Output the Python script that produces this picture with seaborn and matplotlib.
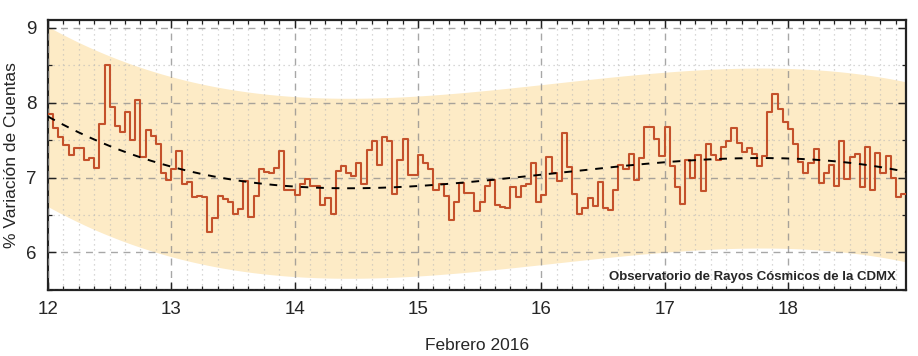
import numpy as np
import pandas as pd
import matplotlib
matplotlib.use("Agg")
import matplotlib.pyplot as plt
import seaborn as sns
from matplotlib.ticker import MultipleLocator

# ========== DATA (hourly values, Feb 12-18 2016) ==========
day_start = 12
hours = np.arange(168)

cuentas = [
    7.85, 7.66, 7.54, 7.43, 7.30, 7.40, 7.40, 7.24, 7.26, 7.13, 7.72, 8.50,
    7.94, 7.69, 7.61, 7.88, 7.50, 8.03, 7.27, 7.63, 7.55, 7.45, 7.06, 6.97,
    7.12, 7.36, 6.92, 6.94, 6.74, 6.76, 6.74, 6.27, 6.46, 6.75, 6.71, 6.68,
    6.52, 6.58, 6.95, 6.48, 6.75, 7.11, 7.08, 7.06, 7.13, 7.35, 6.83, 6.83,
    6.77, 6.92, 6.98, 6.89, 6.89, 6.63, 6.73, 6.51, 7.09, 7.16, 7.06, 7.02,
    7.19, 6.91, 7.37, 7.49, 7.17, 7.54, 7.49, 6.78, 7.23, 7.51, 7.04, 7.04,
    7.30, 7.20, 7.11, 6.84, 6.91, 6.76, 6.44, 6.68, 6.93, 6.80, 6.80, 6.55,
    6.68, 6.89, 6.97, 6.64, 6.61, 6.60, 6.88, 6.74, 6.89, 6.91, 7.19, 6.67,
    6.77, 7.28, 7.06, 6.95, 7.59, 7.14, 6.78, 6.51, 6.60, 6.73, 6.62, 6.94,
    6.59, 6.57, 6.83, 7.17, 7.11, 7.32, 6.97, 7.26, 7.68, 7.68, 7.51, 7.29,
    7.67, 7.16, 6.88, 6.65, 7.23, 7.00, 7.30, 6.82, 7.45, 7.30, 7.23, 7.41,
    7.49, 7.66, 7.46, 7.34, 7.39, 7.32, 7.15, 7.29, 7.87, 8.12, 7.92, 7.74,
    7.65, 7.45, 7.21, 7.06, 7.20, 7.38, 6.93, 7.06, 7.17, 6.89, 7.49, 6.98,
    7.27, 7.31, 6.88, 7.41, 6.83, 7.33, 7.06, 7.29, 6.99, 6.74, 6.78, 6.78,
]

fit_degree = 3
band_half_width = 1.2

x_ticks = [12, 13, 14, 15, 16, 17, 18]
y_ticks = [6, 7, 8, 9]

df = pd.DataFrame({"dia": day_start + hours / 24.0, "cuentas": cuentas})

# polynomial trend of the series and its band
coef = np.polyfit(df["dia"] - day_start, df["cuentas"], fit_degree)
df["ajuste"] = np.polyval(coef, df["dia"] - day_start)

# ========== PLOT ==========
sns.set_theme(style="ticks")
plt.rcParams["font.family"] = ["Liberation Sans", "DejaVu Sans"]

fig = plt.figure(figsize=(9.18, 3.56), dpi=100)
ax = fig.add_axes([0.0523, 0.1854, 0.9347, 0.7584])

ax.fill_between(df["dia"], df["ajuste"] - band_half_width, df["ajuste"] + band_half_width,
                color="#fdebc6", linewidth=0, zorder=1)

sns.lineplot(data=df, x="dia", y="cuentas", drawstyle="steps-post",
             color="#c4512b", linewidth=1.5, ax=ax, zorder=4)
sns.lineplot(data=df, x="dia", y="ajuste", color="black", linewidth=1.4,
             linestyle=(0, (4, 4)), ax=ax, zorder=5)

ax.set_xlim(df["dia"].iloc[0], df["dia"].iloc[-1])
ax.set_ylim(5.5, 9.1)
ax.set_xticks(x_ticks)
ax.set_yticks(y_ticks)
ax.xaxis.set_minor_locator(MultipleLocator(0.125))
ax.yaxis.set_minor_locator(MultipleLocator(0.5))

ax.grid(which="major", color="#8a8a8a", linestyle=(0, (5, 4)), linewidth=1.0, alpha=0.75, zorder=2)
ax.grid(which="minor", color="#b5b5b5", linestyle=(0, (1, 3)), linewidth=0.9, alpha=0.7, zorder=2)
ax.set_axisbelow(False)
for ln in ax.get_xgridlines() + ax.get_ygridlines():
    ln.set_zorder(2)

ax.tick_params(which="both", direction="in", top=True, right=True, color="#222222")
ax.tick_params(which="major", length=6, width=1.0, labelsize=13.5, pad=8)
ax.tick_params(which="minor", length=3, width=0.9)
for s in ax.spines.values():
    s.set_color("#222222")
    s.set_linewidth(1.6)

ax.set_xlabel("Febrero 2016", fontsize=12.5, labelpad=14)
ax.set_ylabel("% Variación de Cuentas", fontsize=12.5, labelpad=5)

ax.text(0.988, 0.025, "Observatorio de Rayos Cósmicos de la CDMX", transform=ax.transAxes,
        ha="right", va="bottom", fontsize=9.5, fontweight="bold", zorder=6)

plt.savefig("out.png", dpi=100)
plt.close()
